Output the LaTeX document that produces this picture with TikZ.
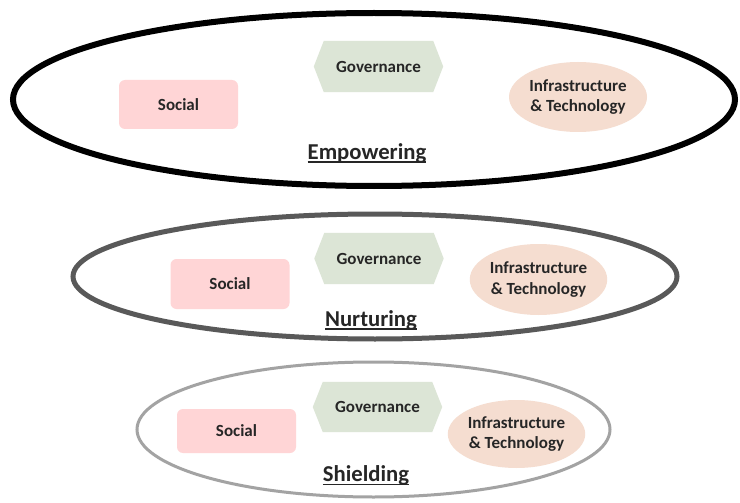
\documentclass[tikz,border=0pt]{standalone}
\usepackage{fontspec}
\setmainfont{Carlito}
\usetikzlibrary{shapes.geometric}
\pgfdeclarelayer{background}
\pgfsetlayers{background,main}
\definecolor{socfill}{HTML}{FFD5D6}
\definecolor{govfill}{HTML}{DCE5D6}
\definecolor{inffill}{HTML}{F5DDD0}
\definecolor{txt}{HTML}{262626}
\definecolor{ringone}{HTML}{000000}
\definecolor{ringtwo}{HTML}{595959}
\definecolor{ringthree}{HTML}{A3A3A3}
\newcommand\headul[1]{\setbox0=\hbox{#1}\rlap{\rule[-3.6pt]{\wd0}{1.2pt}}\box0}
\tikzset{
  ring/.style={ellipse, draw, inner sep=0pt, outer sep=0pt},
  lbl/.style={text=txt, font=\fontsize{17}{20.5}\selectfont\bfseries, inner sep=0pt},
  socbox/.style={lbl, rectangle, rounded corners=6pt, fill=socfill, minimum width=119pt},
  govbox/.style={lbl, rectangle, minimum width=109pt},
  infbox/.style={lbl, ellipse, fill=inffill, align=center},
  head/.style={text=txt, font=\fontsize{22.7}{27}\selectfont\bfseries, inner sep=0pt, anchor=base},
  govshape/.style={fill=govfill}
}
\begin{document}
\begin{tikzpicture}[x=1pt,y=-1pt]
\useasboundingbox (0,0) rectangle (740,503);

% Empowering
\node[ring, line width=6pt, draw=ringone, minimum width=722pt, minimum height=173pt] (r1) at (374,99.5) {};
\node[socbox, minimum height=49pt] (s1) at (178.5,104.5) {Social};
\node[govbox, minimum height=51pt] (g1) at (378.5,66.5) {Governance};
\node[infbox, minimum width=138pt, minimum height=70pt] (i1) at (578,97) {Infrastructure\\\& Technology};
\node[head] (h1) at (367,159) {\headul{Empowering}};

% Nurturing
\node[ring, line width=5pt, draw=ringtwo, minimum width=604pt, minimum height=125pt] (r2) at (375,276.5) {};
\node[socbox, minimum height=50pt] (s2) at (230,284) {Social};
\node[govbox, minimum height=51pt] (g2) at (379,258.5) {Governance};
\node[infbox, minimum width=137pt, minimum height=71pt] (i2) at (538.5,279.5) {Infrastructure\\\& Technology};
\node[head] (h2) at (371,326) {\headul{Nurturing}};

% Shielding
\node[ring, line width=3pt, draw=ringthree, minimum width=473pt, minimum height=135pt] (r3) at (373.5,429.5) {};
\node[socbox, minimum height=44pt] (s3) at (236.5,431) {Social};
\node[govbox, minimum height=50pt] (g3) at (377.5,407) {Governance};
\node[infbox, minimum width=137pt, minimum height=68pt] (i3) at (516.5,434) {Infrastructure\\\& Technology};
\node[head] (h3) at (366,481.5) {\headul{Shielding}};

\begin{pgfonlayer}{background}
\fill[white] (0,0) rectangle (740,503);
\foreach \g in {g1,g2,g3}{
  \fill[govshape] (\g.north west) -- (\g.north east) -- ([xshift=10pt]\g.east) -- (\g.south east) -- (\g.south west) -- ([xshift=-10pt]\g.west) -- cycle;
}
\end{pgfonlayer}
\end{tikzpicture}
\end{document}
